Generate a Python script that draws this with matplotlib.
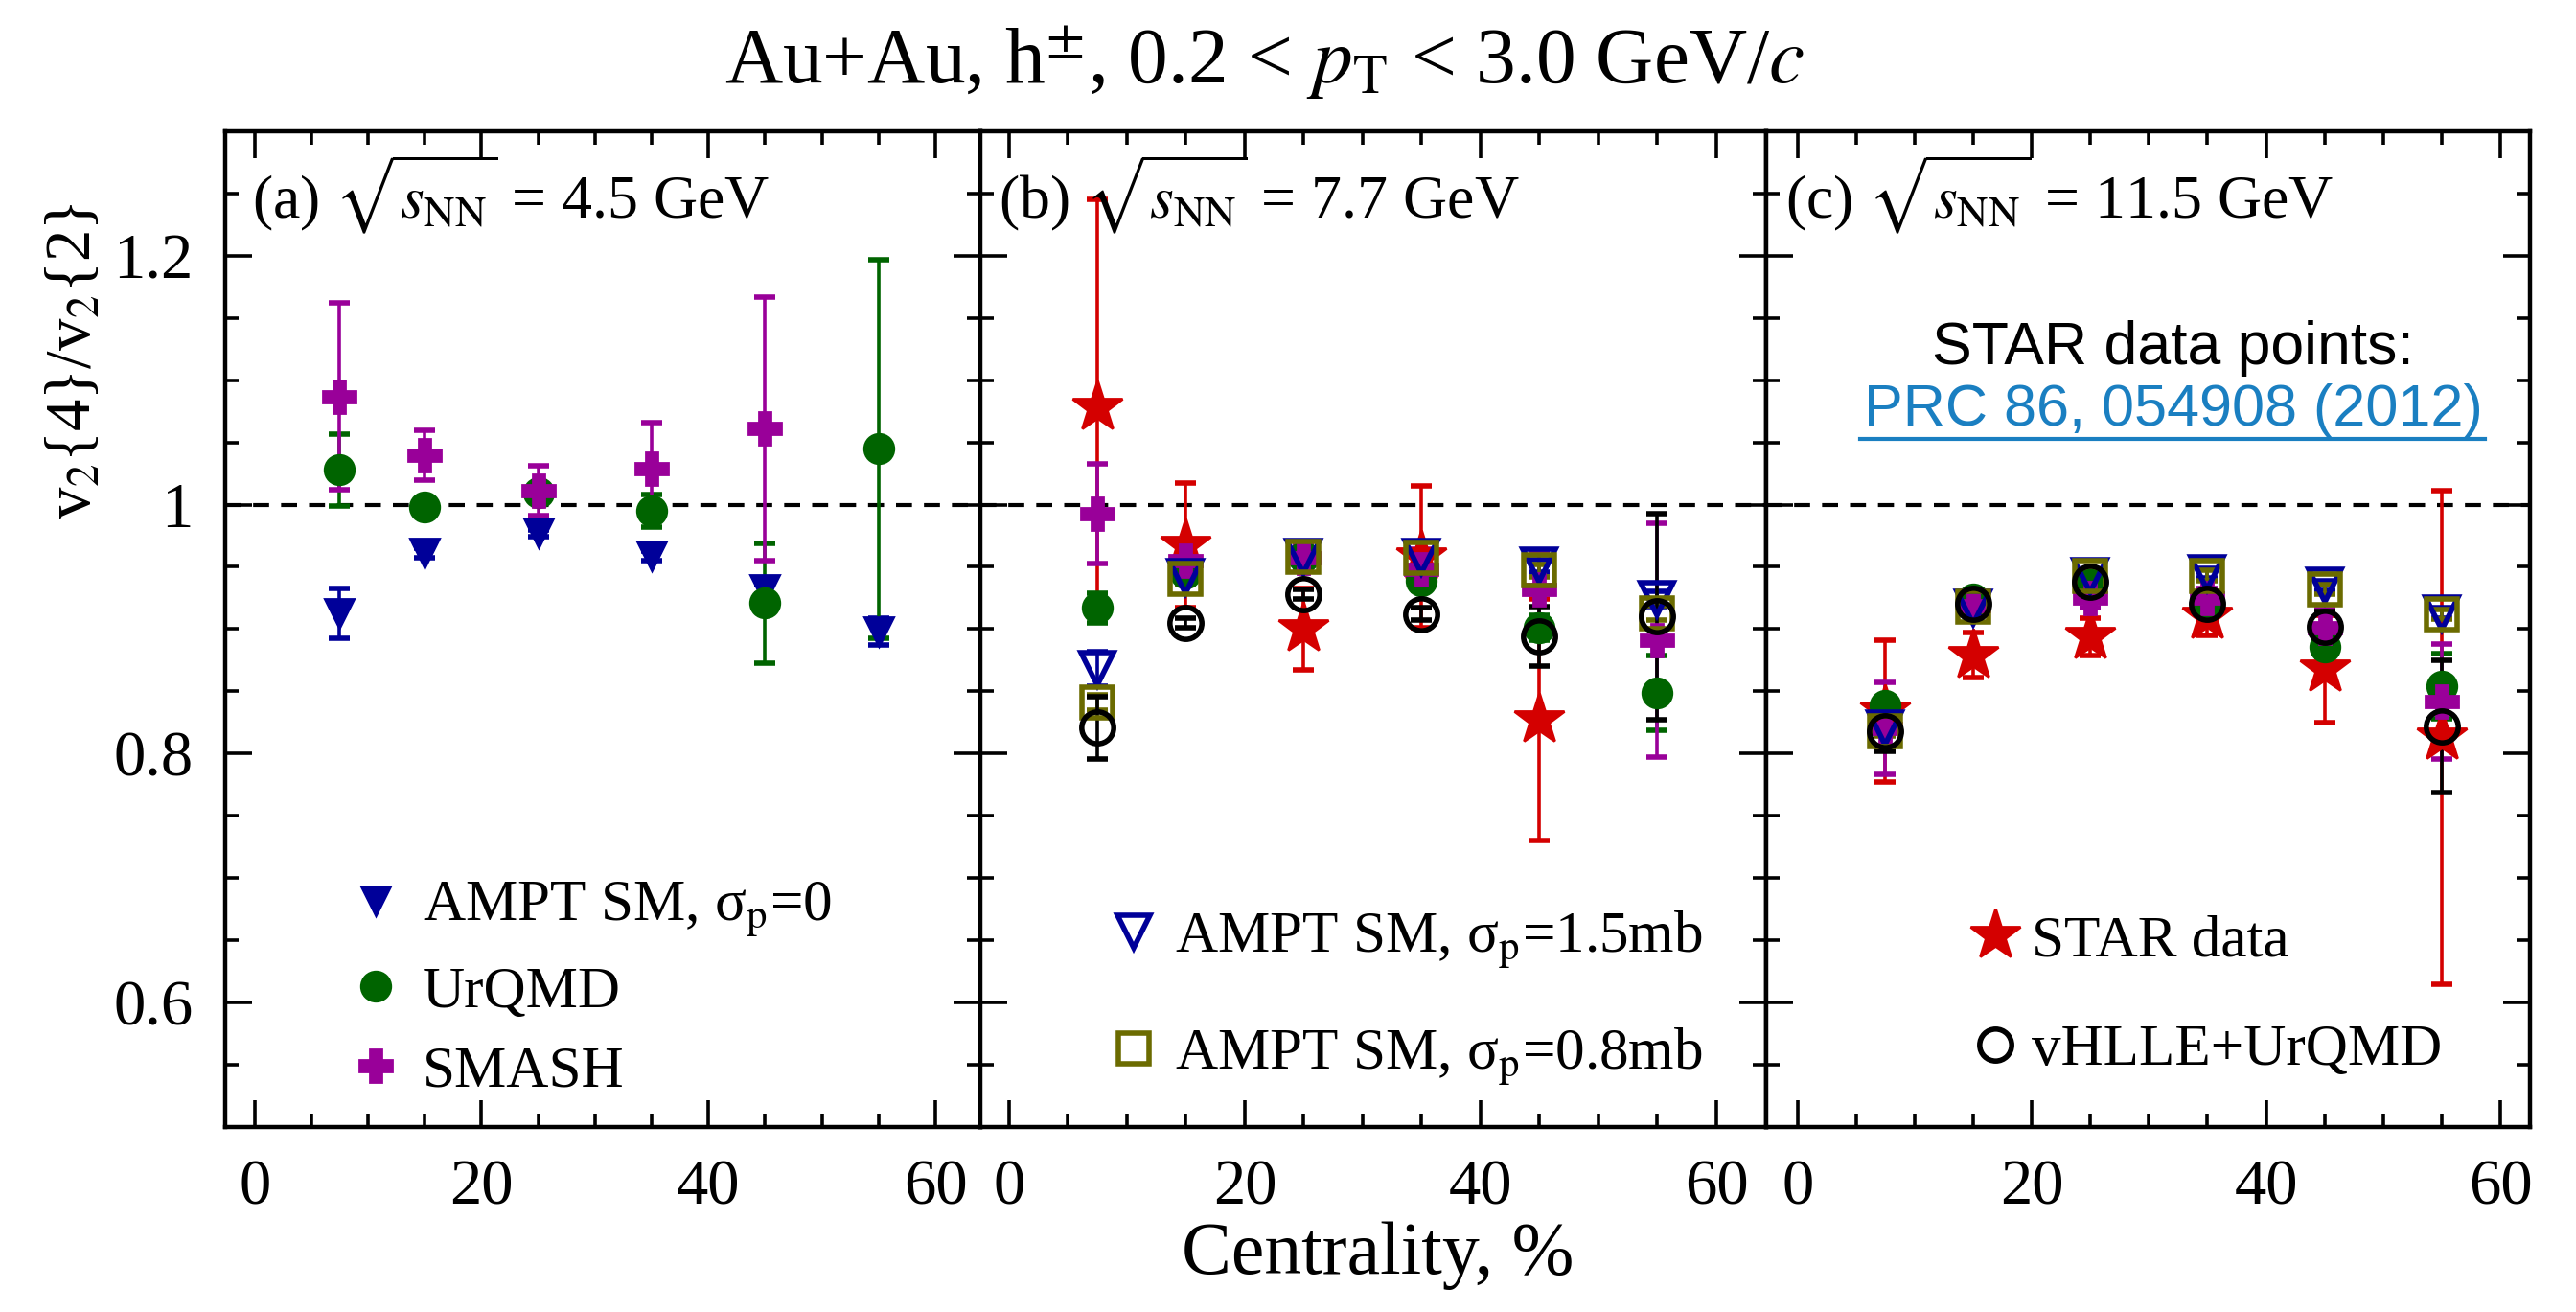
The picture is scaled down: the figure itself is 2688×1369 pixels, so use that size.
import matplotlib
matplotlib.use('Agg')
import matplotlib.pyplot as plt
from matplotlib.lines import Line2D
from matplotlib.ticker import MultipleLocator

plt.rcParams['font.family'] = ['Liberation Serif', 'DejaVu Serif']
plt.rcParams['mathtext.fontset'] = 'stix'

# centrality bins
cent = [7.5, 15, 25, 35, 45, 55]

# (a) 4.5 GeV
ampt0_a = [0.913, 0.961, 0.977, 0.959, 0.932, 0.898]
ampt0_a_err = [0.020, 0.004, 0.003, 0.004, 0.004, 0.011]
urqmd_a = [1.028, 0.998, 1.010, 0.995, 0.921, 1.045]
urqmd_a_err = [0.029, 0.005, 0.006, 0.013, 0.048, 0.152]
smash_a = [1.087, 1.040, 1.011, 1.029, 1.061]
smash_a_err = [0.075, 0.020, 0.020, 0.037, 0.106]

# (b) 7.7 GeV
star_b = [1.078, 0.967, 0.900, 0.958, 0.827]
star_b_err = [0.167, 0.050, 0.033, 0.057, 0.097]
smash_b = [0.993, 0.955, 0.957, 0.948, 0.932, 0.891]
smash_b_err = [0.040, 0.010, 0.010, 0.016, 0.031, 0.094]
urqmd_b = [0.917, 0.945, 0.958, 0.939, 0.901, 0.849]
urqmd_b_err = [0.012, 0.008, 0.006, 0.008, 0.010, 0.030]
ampt15_b = [0.868, 0.942, 0.958, 0.958, 0.951, 0.924]
ampt15_b_err = [0.014, 0.005, 0.004, 0.004, 0.005, 0.006]
ampt08_b = [0.841, 0.940, 0.958, 0.957, 0.947, 0.913]
ampt08_b_err = [0.006, 0.004, 0.004, 0.004, 0.005, 0.006]
vhlle_b = [0.821, 0.905, 0.928, 0.912, 0.894, 0.910]
vhlle_b_err = [0.025, 0.004, 0.004, 0.005, 0.024, 0.083]

# (c) 11.5 GeV
star_c = [0.834, 0.879, 0.894, 0.910, 0.868, 0.813]
star_c_err = [0.057, 0.018, 0.015, 0.015, 0.043, 0.198]
smash_c = [0.820, 0.919, 0.925, 0.925, 0.901, 0.842]
smash_c_err = [0.037, 0.006, 0.008, 0.008, 0.015, 0.046]
urqmd_c = [0.839, 0.924, 0.936, 0.919, 0.886, 0.854]
urqmd_c_err = [0.006, 0.005, 0.005, 0.006, 0.008, 0.026]
ampt15_c = [0.820, 0.917, 0.943, 0.945, 0.935, 0.913]
ampt15_c_err = [0.004, 0.004, 0.004, 0.004, 0.004, 0.004]
ampt08_c = [0.818, 0.918, 0.943, 0.943, 0.932, 0.912]
ampt08_c_err = [0.004, 0.004, 0.004, 0.004, 0.004, 0.004]
vhlle_c = [0.818, 0.920, 0.938, 0.920, 0.902, 0.822]
vhlle_c_err = [0.016, 0.004, 0.004, 0.005, 0.012, 0.053]

c_blue = '#000099'
c_green = '#006400'
c_mag = '#990099'
c_red = '#d40000'
c_olive = '#6b6b00'

sty = {
    'ampt0': dict(fmt='v', color=c_blue, ms=11),
    'urqmd': dict(fmt='o', color=c_green, ms=11),
    'smash': dict(fmt='P', color=c_mag, ms=12),
    'star': dict(fmt='*', color=c_red, ms=20),
    'ampt15': dict(fmt='v', color=c_blue, ms=12, mfc='none', mew=2),
    'ampt08': dict(fmt='s', color=c_olive, ms=11.5, mfc='none', mew=2),
    'vhlle': dict(fmt='o', color='k', ms=12, mfc='none', mew=2),
}

def draw(ax, key, y, err):
    ax.errorbar(cent[:len(y)], y, yerr=err, capsize=4, capthick=2, elinewidth=1.3,
                ls='none', **sty[key])

fig = plt.figure(figsize=(13.44, 6.845), dpi=200)
gs = fig.add_gridspec(1, 3, left=0.0874, right=0.982, top=0.900, bottom=0.141, wspace=0,
                      width_ratios=[460, 478, 465])
axs = [fig.add_subplot(gs[0, i]) for i in range(3)]

ax = axs[0]
draw(ax, 'ampt0', ampt0_a, ampt0_a_err)
draw(ax, 'urqmd', urqmd_a, urqmd_a_err)
draw(ax, 'smash', smash_a, smash_a_err)

ax = axs[1]
draw(ax, 'star', star_b, star_b_err)
draw(ax, 'urqmd', urqmd_b, urqmd_b_err)
draw(ax, 'smash', smash_b, smash_b_err)
draw(ax, 'ampt15', ampt15_b, ampt15_b_err)
draw(ax, 'ampt08', ampt08_b, ampt08_b_err)
draw(ax, 'vhlle', vhlle_b, vhlle_b_err)

ax = axs[2]
draw(ax, 'star', star_c, star_c_err)
draw(ax, 'urqmd', urqmd_c, urqmd_c_err)
draw(ax, 'smash', smash_c, smash_c_err)
draw(ax, 'ampt15', ampt15_c, ampt15_c_err)
draw(ax, 'ampt08', ampt08_c, ampt08_c_err)
draw(ax, 'vhlle', vhlle_c, vhlle_c_err)

labels = [r'(a) $\sqrt{s_{\rm NN}}$ = 4.5 GeV',
          r'(b) $\sqrt{s_{\rm NN}}$ = 7.7 GeV',
          r'(c) $\sqrt{s_{\rm NN}}$ = 11.5 GeV']
lab_x = [0.035, 0.023, 0.026]
xlims = [(-2.6, 64.0), (-2.4, 64.2), (-2.7, 62.5)]

for i, ax in enumerate(axs):
    ax.axhline(1.0, color='k', ls=(0, (4, 3)), lw=1.5, zorder=0)
    ax.set_xlim(*xlims[i])
    ax.set_ylim(0.5, 1.3)
    ax.set_xticks([0, 20, 40, 60])
    ax.xaxis.set_minor_locator(MultipleLocator(5))
    ax.yaxis.set_major_locator(MultipleLocator(0.2))
    ax.yaxis.set_minor_locator(MultipleLocator(0.05))
    ax.tick_params(which='both', direction='in', top=True, right=True, labelsize=24, pad=12)
    ax.tick_params(which='major', length=10, width=1.3)
    ax.tick_params(which='minor', length=5, width=1.3)
    for s in ax.spines.values():
        s.set_linewidth(1.6)
    if i == 0:
        ax.set_yticks([0.6, 0.8, 1.0, 1.2])
        ax.set_yticklabels(['0.6', '0.8', '1', '1.2'])
    else:
        ax.tick_params(labelleft=False)
    ax.text(lab_x[i], 0.937, labels[i], transform=ax.transAxes, fontsize=23, va='center', ha='left')

def h(key):
    s = sty[key]
    return Line2D([], [], ls='none', marker=s['fmt'], color=s['color'], ms=s['ms'],
                  mfc=s.get('mfc', s['color']), mew=s.get('mew', 1))

axs[0].legend([h('ampt0'), h('urqmd'), h('smash')],
              [u'AMPT SM, σ$_{\\rm p}$=0', 'UrQMD', 'SMASH'],
              loc='lower left', bbox_to_anchor=(0.16, 0.028), frameon=False, fontsize=22,
              handlelength=1.0, handletextpad=0.3, labelspacing=0.45, borderpad=0, borderaxespad=0)
axs[1].legend([h('ampt15'), h('ampt08')],
              [u'AMPT SM, σ$_{\\rm p}$=1.5mb', u'AMPT SM, σ$_{\\rm p}$=0.8mb'],
              loc='lower left', bbox_to_anchor=(0.158, 0.04), frameon=False, fontsize=22,
              handlelength=1.0, handletextpad=0.2, labelspacing=0.95, borderpad=0, borderaxespad=0)
axs[2].legend([h('star'), h('vhlle')], ['STAR data', 'vHLLE+UrQMD'],
              loc='lower left', bbox_to_anchor=(0.262, 0.05), frameon=False, fontsize=22,
              handlelength=1.0, handletextpad=0.12, labelspacing=0.95, borderpad=0, borderaxespad=0)

axs[2].text(0.533, 0.782, 'STAR data points:', transform=axs[2].transAxes, ha='center', va='center',
            fontsize=22.5, family=['Liberation Sans', 'DejaVu Sans'])
axs[2].text(0.533, 0.719, 'PRC 86, 054908 (2012)', transform=axs[2].transAxes, ha='center', va='center',
            fontsize=22, family=['Liberation Sans', 'DejaVu Sans'], color='#1a7fc1')
axs[2].plot([0.123, 0.942], [0.691, 0.691], transform=axs[2].transAxes, color='#1a7fc1', lw=1.5)

fig.text(0.491, 0.952, r'Au+Au, h$^{\pm}$, 0.2 < $p_{\rm T}$ < 3.0 GeV/$c$', ha='center', va='center', fontsize=30)
fig.text(0.029, 0.725, r'v$_2${4}/v$_2${2}', rotation=90, ha='center', va='center', fontsize=24)
fig.text(0.535, 0.043, 'Centrality, %', ha='center', va='center', fontsize=28)

fig.savefig('out.png', dpi=200)
